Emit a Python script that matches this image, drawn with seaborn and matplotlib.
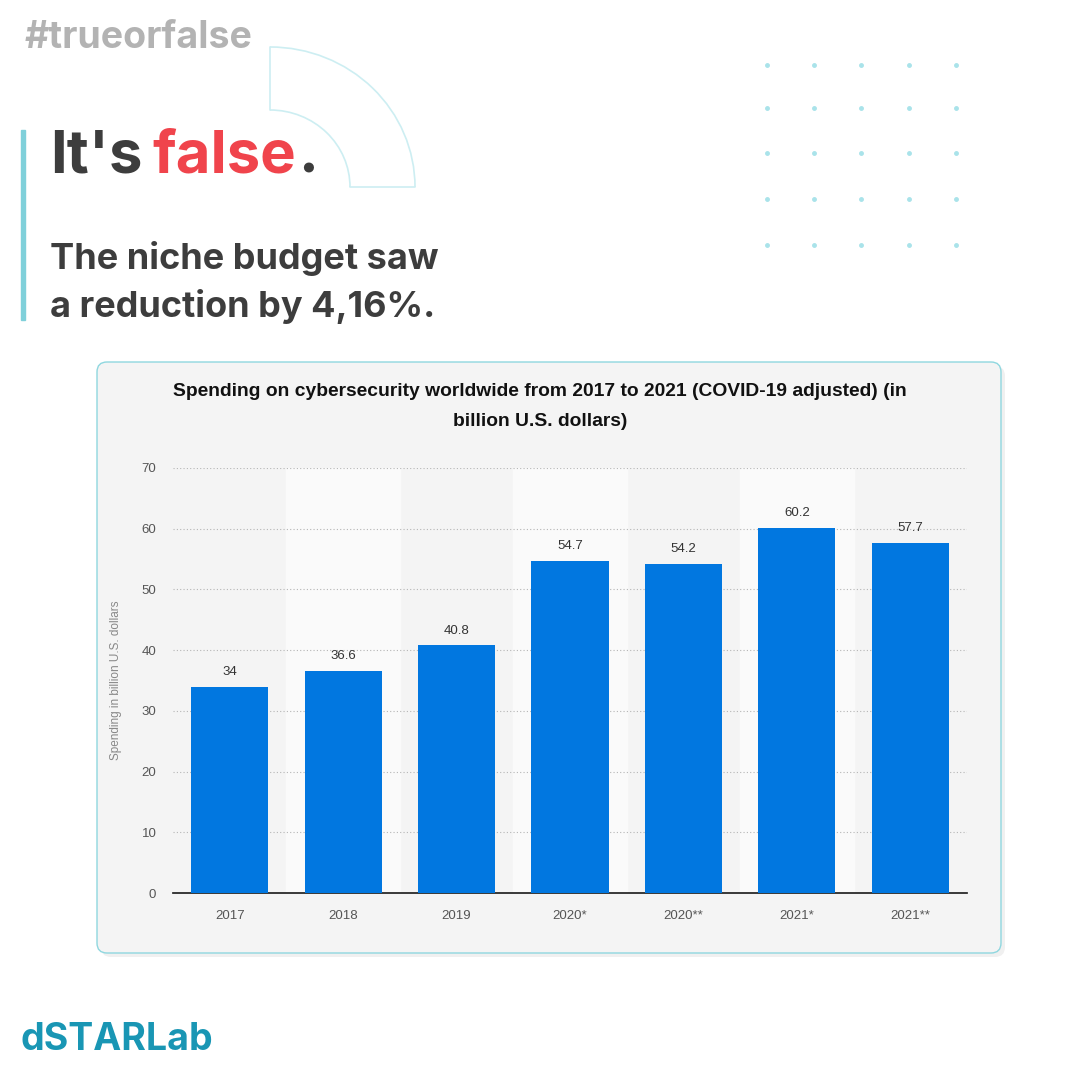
import matplotlib
matplotlib.use("Agg")
import matplotlib.pyplot as plt
import seaborn as sns
import pandas as pd
from matplotlib.patches import FancyBboxPatch, Arc, Rectangle

categories = ["2017", "2018", "2019", "2020*", "2020**", "2021*", "2021**"]
values = [34, 36.6, 40.8, 54.7, 54.2, 60.2, 57.7]
value_labels = ["34", "36.6", "40.8", "54.7", "54.2", "60.2", "57.7"]
yticks = [0, 10, 20, 30, 40, 50, 60, 70]

sns.set_theme(style="white")
plt.rcParams['font.family'] = ['Inter', 'DejaVu Sans']

W = H = 1080
fig = plt.figure(figsize=(10.8, 10.8), dpi=100)
fig.patch.set_facecolor("white")
bg = fig.add_axes([0, 0, 1, 1])
bg.set_xlim(0, W); bg.set_ylim(H, 0); bg.axis("off")

# decorations
bg.text(25, 38, "#trueorfalse", fontsize=27, fontweight="bold", color="#b3b3b3", va="center")
bg.add_patch(Rectangle((21, 130), 4, 190, color="#7fd0da"))
bg.text(50, 157, "It's", fontsize=43, fontweight="bold", color="#3d3d3d", va="center")
bg.text(152, 157, "false", fontsize=43, fontweight="bold", color="#f0444c", va="center")
bg.text(298, 157, ".", fontsize=43, fontweight="bold", color="#3d3d3d", va="center")
bg.text(50, 258, "The niche budget saw", fontsize=26, fontweight="bold", color="#3d3d3d", va="center")
bg.text(50, 306, "a reduction by 4,16%.", fontsize=26, fontweight="bold", color="#3d3d3d", va="center")
bg.add_patch(Arc((270, 187), 290, 280, theta1=270, theta2=360, color="#cdeef2", lw=1.2))
bg.add_patch(Arc((270, 187), 160, 154, theta1=270, theta2=360, color="#cdeef2", lw=1.2))
bg.plot([270, 270], [47, 110], color="#cdeef2", lw=1.2)
bg.plot([350, 415], [187, 187], color="#cdeef2", lw=1.2)
for x in [767, 814, 861, 909, 956]:
    for y in [65, 108, 153, 199, 245]:
        bg.plot(x, y, "o", ms=2.5, color="#a9e3ea")
bg.text(20, 1040, "dSTARLab", fontsize=27, fontweight="bold", color="#1996b4", va="center")

# card
bg.add_patch(FancyBboxPatch((101, 366), 904, 591, boxstyle="round,pad=0,rounding_size=10",
                            fc="#e6e6e6", ec="none", alpha=0.6))
bg.add_patch(FancyBboxPatch((97, 362), 904, 591, boxstyle="round,pad=0,rounding_size=10",
                            fc="#f4f4f4", ec="#8fd7df", lw=1))
bg.text(540, 392, "Spending on cybersecurity worldwide from 2017 to 2021 (COVID-19 adjusted) (in",
        fontsize=13.9, fontweight="bold", color="#111111", ha="center", va="center",
        family=["Liberation Sans", "DejaVu Sans"])
bg.text(540, 422, "billion U.S. dollars)", fontsize=13.9, fontweight="bold", color="#111111",
        ha="center", va="center", family=["Liberation Sans", "DejaVu Sans"])

# chart axes
x0, x1, y0, y1 = 173, 967, 468, 893
ax = fig.add_axes([x0 / W, 1 - y1 / H, (x1 - x0) / W, (y1 - y0) / H])
ax.set_facecolor("#f4f4f4")
df = pd.DataFrame({"cat": categories, "val": values})
for i in range(len(categories)):
    if i % 2 == 1:
        ax.axvspan(i - 0.5, i + 0.5, color="#fafafa", zorder=0)
sns.barplot(data=df, x="cat", y="val", color="#0177e0", saturation=1, width=0.68, ax=ax,
            zorder=3, edgecolor="none", linewidth=0)
for i, (v, lab) in enumerate(zip(values, value_labels)):
    ax.text(i, v + 2.4, lab, ha="center", va="center", fontsize=9.5, color="#333333",
            family=["Liberation Sans", "DejaVu Sans"])
ax.set_ylim(0, 70)
ax.set_xlim(-0.5, len(categories) - 0.5)
ax.set_yticks(yticks)
ax.yaxis.grid(True, linestyle=(0, (1, 2)), color="#b5b5b5", lw=0.8)
ax.set_axisbelow(True)
for s in ["top", "right", "left"]:
    ax.spines[s].set_visible(False)
ax.spines["bottom"].set_color("#222222")
ax.tick_params(axis="both", length=0, labelsize=9.5, colors="#555555", pad=12)
for t in ax.get_xticklabels() + ax.get_yticklabels():
    t.set_family(["Liberation Sans", "DejaVu Sans"])
ax.set_xlabel("")
ax.set_ylabel("Spending in billion U.S. dollars", fontsize=8.5, color="#888888",
              family=["Liberation Sans", "DejaVu Sans"], labelpad=14)

fig.savefig("out.png", dpi=100)
